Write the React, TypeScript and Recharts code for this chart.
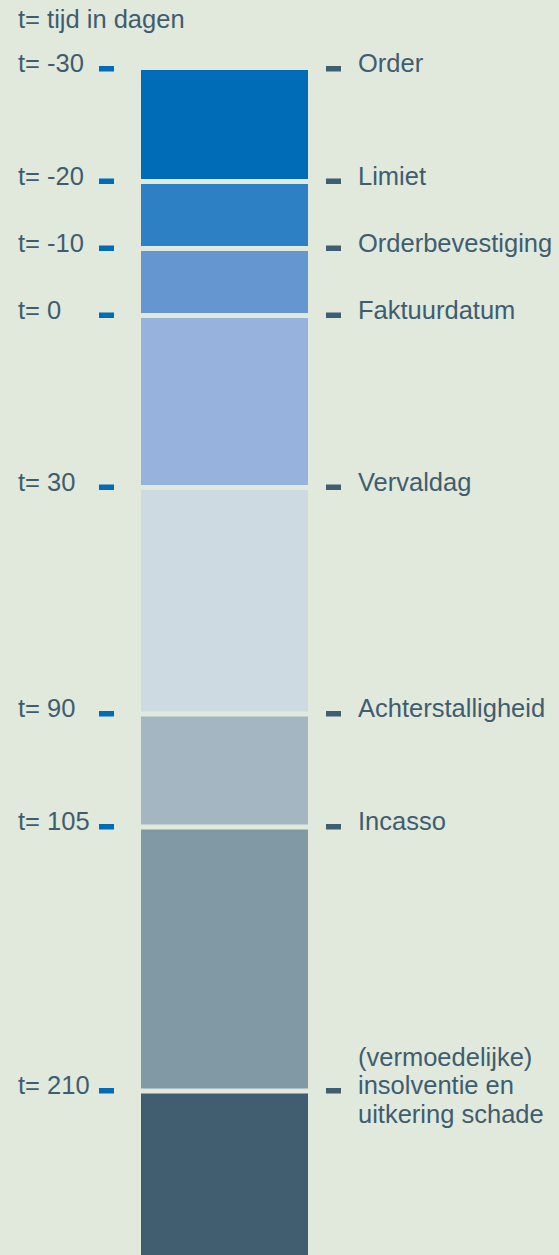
import React from 'react';
import { BarChart, Bar, XAxis, YAxis } from 'recharts';

// segment heights, top to bottom (chart units)
const segments = [112.5, 67, 67, 172, 226.5, 113, 264, 164];
const segmentColors = [
  '#006cb7',
  '#2d80c4',
  '#6596d0',
  '#97b2dd',
  '#cddae1',
  '#a3b6c1',
  '#8198a5',
  '#415e70',
];
const timeLabels = ['t= -30', 't= -20', 't= -10', 't= 0', 't= 30', 't= 90', 't= 105', 't= 210'];
const eventLabels = [
  ['Order'],
  ['Limiet'],
  ['Orderbevestiging'],
  ['Faktuurdatum'],
  ['Vervaldag'],
  ['Achterstalligheid'],
  ['Incasso'],
  ['(vermoedelijke)', 'insolventie en', 'uitkering schade'],
];

const bg = '#e1e9dd';
const textColor = '#3f5d6e';
const fontSize = 25.5;
const font = 'Liberation Sans, Arial, sans-serif';

const total = segments.reduce((a, b) => a + b, 0);
const boundaries = segments.map((_, i) => segments.slice(0, i).reduce((a, b) => a + b, 0));

const row: Record<string, any> = { name: 'tijdlijn' };
segments.forEach((v, i) => {
  row['s' + i] = v;
});
const data = [row];

const gapShape = (index: number) => (props: any) => {
  const { x, y, width, height, fill } = props;
  const top = Math.min(y, y + height);
  const h = Math.abs(height);
  const cutTop = index === 0 ? 1 : 2.5;
  const cutBottom = index === segments.length - 1 ? 0 : 2.5;
  return <rect x={x} y={top + cutTop} width={width} height={Math.max(0, h - cutTop - cutBottom)} fill={fill} />;
};

// one tick draws both the time label (left) and the event label (right)
const TimelineTick = (props: any) => {
  const { y, index } = props;
  const lines = eventLabels[index] || [];
  const first = y + 3 - ((lines.length - 1) / 2) * 28.5;
  return (
    <g>
      <text x={18} y={y + 3} fill={textColor} fontSize={fontSize} fontFamily={font}>
        {timeLabels[index]}
      </text>
      <rect x={99} y={y - 3} width={15} height={5.5} fill="#006cb7" />
      <rect x={326} y={y - 3} width={15} height={5.5} fill="#415e70" />
      {lines.map((l, i) => (
        <text key={i} x={358} y={first + i * 28.5} fill={textColor} fontSize={fontSize} fontFamily={font}>
          {l}
        </text>
      ))}
    </g>
  );
};

export default function App() {
  return (
    <div style={{ position: 'absolute', left: 0, top: 0, width: 559, height: 1255, background: bg, overflow: 'hidden' }}>
      <svg width={559} height={40} style={{ position: 'absolute', left: 0, top: 0 }}>
        <text x={18} y={28} fill={textColor} fontSize={fontSize} fontFamily={font}>
          t= tijd in dagen
        </text>
      </svg>
      <div style={{ position: 'absolute', left: 0, top: 0 }}>
        <BarChart
          width={559}
          height={1255}
          data={data}
          margin={{ top: 69, right: 251, bottom: 0, left: 0 }}
          barCategoryGap="0%"
          barGap={0}
          style={{ overflow: 'visible' }}
        >
          <XAxis dataKey="name" hide />
          <YAxis
            yAxisId="l"
            orientation="left"
            width={141}
            type="number"
            domain={[0, total]}
            reversed
            ticks={boundaries}
            interval={0}
            axisLine={false}
            tickLine={false}
            tick={<TimelineTick />}
          />
          {segments.map((_, i) => (
            <Bar
              key={i}
              yAxisId="l"
              dataKey={'s' + i}
              stackId="a"
              fill={segmentColors[i]}
              isAnimationActive={false}
              shape={gapShape(i)}
            />
          ))}
        </BarChart>
      </div>
    </div>
  );
}
